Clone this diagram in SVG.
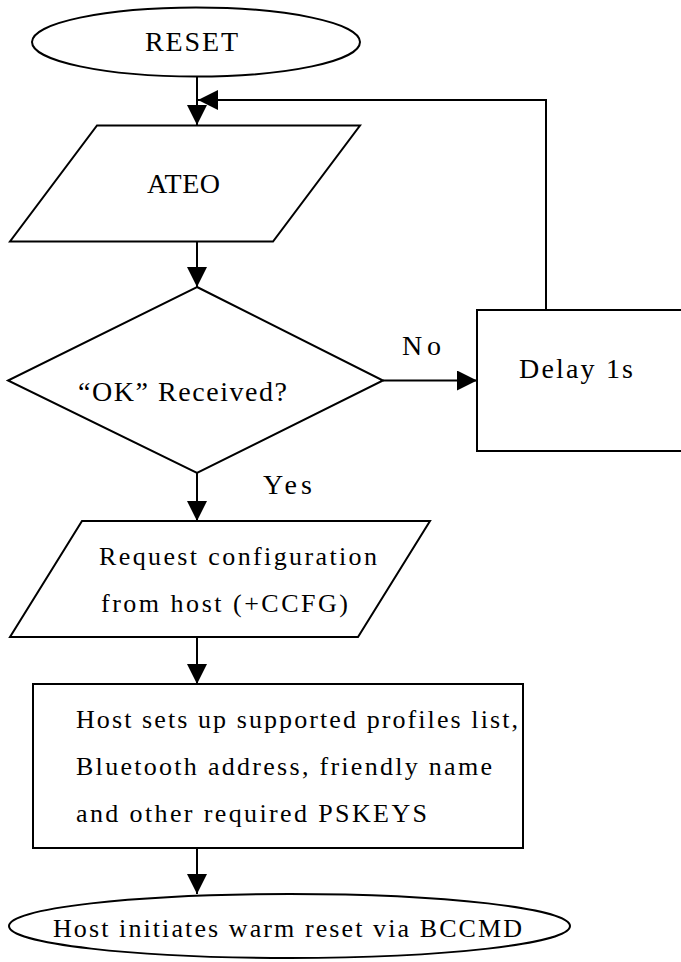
<svg xmlns="http://www.w3.org/2000/svg" width="681" height="962" viewBox="0 0 681 962">
<style>
.shape{fill:#fff;stroke:#000;stroke-width:2}
.conn{fill:none;stroke:#000;stroke-width:2}
text{font-family:"Liberation Serif","Times New Roman",serif;fill:#000}
.big{font-size:28px}
.mid{font-size:26px}
</style>
<defs>
<marker id="arr" viewBox="0 0 20 20" refX="20" refY="10" markerWidth="20" markerHeight="20" markerUnits="userSpaceOnUse" orient="auto">
<path d="M0,0 L20,10 L0,20 z" fill="#000"/>
</marker>
</defs>
<rect width="681" height="962" fill="#fff"/>
<g id="connectors">
<path class="conn" d="M197,76 L197,125" marker-end="url(#arr)"/>
<path class="conn" d="M546,310 L546,100 L198,100" marker-end="url(#arr)"/>
<path class="conn" d="M197,242 L197,287" marker-end="url(#arr)"/>
<path class="conn" d="M383,380.5 L477,380.5" marker-end="url(#arr)"/>
<path class="conn" d="M197,473 L197,521" marker-end="url(#arr)"/>
<path class="conn" d="M197,637 L197,684" marker-end="url(#arr)"/>
<path class="conn" d="M197,848 L197,894" marker-end="url(#arr)"/>
<text class="big" x="402" y="355" textLength="39" lengthAdjust="spacing">No</text>
<text class="big" x="263" y="494" textLength="49" lengthAdjust="spacing">Yes</text>
</g>
<g id="reset">
<ellipse class="shape" cx="196" cy="42" rx="164" ry="34.5"/>
<text class="big" x="145" y="51" textLength="93" lengthAdjust="spacing">RESET</text>
</g>
<g id="ateo">
<polygon class="shape" points="97,125.5 360,125.5 273,241.5 10,241.5"/>
<text class="big" x="147" y="193" textLength="73" lengthAdjust="spacing">ATEO</text>
</g>
<g id="ok-received">
<polygon class="shape" points="197,287 383,380.5 197,473 8,380.5"/>
<text class="big" x="78" y="401" textLength="209" lengthAdjust="spacing">“OK” Received?</text>
</g>
<g id="delay">
<rect class="shape" x="477" y="310" width="220" height="141"/>
<text class="big" x="519" y="378" textLength="114" lengthAdjust="spacing">Delay 1s</text>
</g>
<g id="request">
<polygon class="shape" points="82,521 430,521 358,637 10,637"/>
<text class="mid" x="99" y="565" textLength="278" lengthAdjust="spacing">Request configuration</text>
<text class="mid" x="101" y="612" textLength="247" lengthAdjust="spacing">from host (+CCFG)</text>
</g>
<g id="host-setup">
<rect class="shape" x="33" y="684" width="490" height="164"/>
<text class="mid" x="76" y="728" textLength="442" lengthAdjust="spacing">Host sets up supported profiles list,</text>
<text class="mid" x="76" y="775" textLength="416" lengthAdjust="spacing">Bluetooth address, friendly name</text>
<text class="mid" x="76" y="822" textLength="351" lengthAdjust="spacing">and other required PSKEYS</text>
</g>
<g id="warm-reset">
<ellipse class="shape" cx="289.5" cy="926" rx="280.5" ry="32"/>
<text class="mid" x="53" y="937" textLength="469" lengthAdjust="spacing">Host initiates warm reset via BCCMD</text>
</g>
</svg>
